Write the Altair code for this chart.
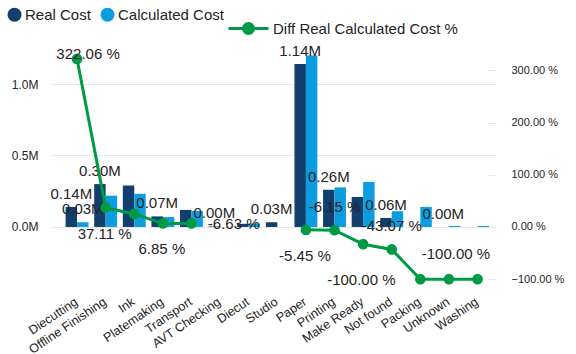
import altair as alt
import pandas as pd

categories = ["Diecutting", "Offline Finishing", "Ink", "Platemaking", "Transport",
              "AVT Checking", "Diecut", "Studio", "Paper", "Printing", "Make Ready",
              "Not found", "Packing", "Unknown", "Washing"]
real_cost_m = [0.14, 0.30, 0.29, 0.074, 0.119, 0.004, 0.022, 0.033, 1.14, 0.26, 0.21,
               0.063, 0.0, 0.0, 0.0]
calc_cost_m = [0.033, 0.219, 0.232, 0.069, 0.112, 0.0, 0.0236, 0.0, 1.20, 0.277, 0.315,
               0.11, 0.14, 0.007, 0.007]
diff_pct = [322.06, 37.11, 25.0, 6.85, 6.9, None, None, None, -5.45, -6.15, -33.0,
            -43.07, -100.0, -100.0, -100.0]
series_names = ["Real Cost", "Calculated Cost"]
line_name = "Diff Real Calculated Cost %"
real_label_cats = ["Diecutting", "Offline Finishing", "Platemaking", "AVT Checking",
                   "Studio", "Paper", "Printing", "Not found", "Unknown"]
calc_label_cats = ["Diecutting"]
extra_pct_label_cat = ["Diecut"]
extra_pct_label_val = [-6.63]

DARK = "#123F6E"
LIGHT = "#0B9DE0"
GREEN = "#009A44"
FONT = "Liberation Sans"
TXT = "#252423"

bars_df = pd.DataFrame({
    "category": categories * 2,
    "series": [series_names[0]] * len(categories) + [series_names[1]] * len(categories),
    "value": real_cost_m + calc_cost_m,
})
bars_df["show"] = [c in real_label_cats for c in categories] + [c in calc_label_cats for c in categories]

seg = []
s = 0
for v in diff_pct:
    if v is None:
        s += 1
    seg.append(s)
line_df = pd.DataFrame({"category": categories, "pct": diff_pct, "seg": seg, "name": line_name})
line_df = line_df.dropna(subset=["pct"])
extra_df = pd.DataFrame({"category": extra_pct_label_cat, "pct": extra_pct_label_val})

x_scale = alt.Scale(domain=categories, paddingInner=0.2, paddingOuter=0.36, align=0.66)
x_axis = alt.Axis(title=None, labelAngle=-34, labelFontSize=12.6, labelFont=FONT,
                  labelColor=TXT, domain=False, ticks=False, labelPadding=8,
                  labelOffset=-4, labelOverlap=False, grid=False)
x_enc = alt.X("category:N", scale=x_scale, sort=categories, axis=x_axis)

yL_scale = alt.Scale(domain=[-0.42, 1.252], nice=False, zero=False)
yR_scale = alt.Scale(domain=[-115, 343], nice=False, zero=False)
off_enc = alt.XOffset("series:N", sort=series_names,
                      scale=alt.Scale(domain=series_names, paddingInner=0))

bars = alt.Chart(bars_df).mark_bar().encode(
    x=x_enc,
    xOffset=off_enc,
    y=alt.Y("value:Q", scale=yL_scale,
            axis=alt.Axis(title=None, values=[0, 0.5, 1.0], orient="left",
                          labelExpr="format(datum.value, '.1f') + 'M'",
                          labelFontSize=12, labelFont=FONT, labelColor=TXT,
                          grid=True, gridColor="#E6E6E6", gridWidth=1,
                          domain=False, ticks=False, labelPadding=14)),
    fill=alt.Fill("series:N", scale=alt.Scale(domain=series_names, range=[DARK, LIGHT]),
                  legend=alt.Legend(title=None, orient="none", direction="horizontal",
                                    legendX=-45, legendY=-41, symbolType="circle",
                                    symbolSize=196, symbolStrokeWidth=0, labelFontSize=15,
                                    labelFont=FONT, labelColor=TXT, labelOffset=3,
                                    columnPadding=9, padding=0, labelLimit=0)),
)

bar_labels = alt.Chart(bars_df).transform_filter("datum.show").transform_calculate(
    lbl="format(datum.value, '.2f') + 'M'"
).mark_text(
    font=FONT, fontSize=15, color=TXT, baseline="bottom", dy=-5
).encode(
    x=x_enc,
    xOffset=off_enc,
    y=alt.Y("value:Q", scale=yL_scale, axis=None),
    text=alt.Text("lbl:N"),
)

line = alt.Chart(line_df).mark_line(strokeWidth=3).encode(
    x=x_enc,
    y=alt.Y("pct:Q", scale=yR_scale,
            axis=alt.Axis(title=None, orient="right", values=[-100, 0, 100, 200, 300],
                          labelExpr="format(datum.value, '.2f') + ' %'",
                          labelFontSize=11, labelFont=FONT, labelColor=TXT,
                          grid=False, domain=False, ticks=True, tickColor="#E6E6E6",
                          tickSize=8, offset=-8, labelPadding=15)),
    detail="seg:N",
    stroke=alt.Stroke("name:N", scale=alt.Scale(domain=[line_name], range=[GREEN]),
                      legend=alt.Legend(title=None, orient="none", legendX=175, legendY=-41,
                                        symbolType="M-1,0L1,0M-0.25,0A0.25,0.25 0 1,1 0.25,0A0.25,0.25 0 1,1 -0.25,0Z",
                                        symbolSize=1600, symbolStrokeWidth=3,
                                        symbolFillColor=GREEN, labelFontSize=15,
                                        labelFont=FONT, labelColor=TXT, labelOffset=3,
                                        padding=0, labelLimit=0)),
)

points = alt.Chart(line_df).mark_circle(size=115, color=GREEN, opacity=1).encode(
    x=x_enc,
    y=alt.Y("pct:Q", scale=yR_scale, axis=None),
)

pct_text = "replace(format(datum.pct, '.2f'), '\u2212', '-') + ' %'"


def pct_label(df, cats, dx, dy):
    return alt.Chart(df).transform_filter(
        alt.FieldOneOfPredicate(field="category", oneOf=cats)
    ).transform_calculate(lbl=pct_text).mark_text(
        font=FONT, fontSize=15, color=TXT, baseline="middle", dx=dx, dy=dy
    ).encode(
        x=x_enc,
        y=alt.Y("pct:Q", scale=yR_scale, axis=None),
        text="lbl:N",
    )


chart = alt.layer(
    bars, bar_labels, line, points,
    pct_label(line_df, ["Printing", "Not found"], 0, -23),
    pct_label(line_df, ["Unknown"], 7, -25),
    pct_label(line_df, ["Offline Finishing", "Platemaking", "Paper"], -1, 26),
    pct_label(line_df, ["Diecutting"], 11, -5),
    pct_label(line_df, ["Packing"], -59, 1),
    pct_label(extra_df, ["Diecut"], -15, -6),
).resolve_scale(
    y="independent", fill="independent", stroke="independent"
).properties(
    width=444, height=239,
    autosize=alt.AutoSizeParams(type="none"),
    padding={"left": 52, "top": 48, "right": 80, "bottom": 67},
    background="white",
).configure_view(stroke=None)

chart.save("out.html", embed_options={"renderer": "svg", "actions": False})
